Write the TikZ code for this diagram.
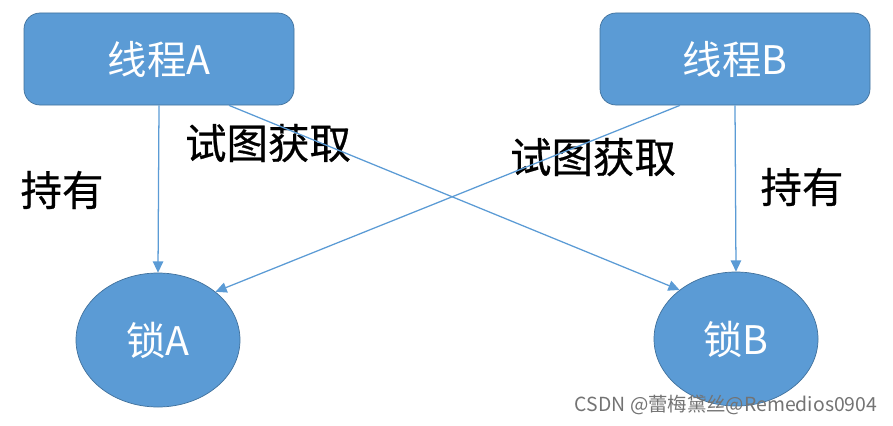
\documentclass[tikz,border=0pt]{standalone}
\usepackage{fontspec}
\usepackage{tikz}
\usetikzlibrary{arrows.meta, shapes.geometric}
\newfontfamily\cjk{Noto Sans CJK SC}
\newfontfamily\cjkheavy[FakeBold=0.6]{Noto Sans CJK SC}
\definecolor{lockblue}{HTML}{5B9BD5}
\definecolor{edgeblue}{HTML}{41719C}

\begin{document}
\begin{tikzpicture}[
    thread/.style={draw=edgeblue, line width=0.5pt, fill=lockblue, rounded corners=0.4cm,
                   minimum width=6.75cm, minimum height=2.3cm, text=white,
                   font=\cjk\fontsize{28}{30}\selectfont},
    lock/.style={ellipse, draw=edgeblue, line width=0.5pt, fill=lockblue,
                 minimum width=4.1cm, minimum height=3.35cm, text=white,
                 font=\cjk\fontsize{28}{30}\selectfont},
    label/.style={font=\cjkheavy\fontsize{29.5}{32}\selectfont, text=black},
    arrow/.style={-{Triangle[length=2.8mm, width=2.6mm]}, line width=0.9pt, lockblue}
]
\useasboundingbox (0,0) rectangle (22.325,-10.625);

\node[thread] (tA) at (3.975,-1.475) {线程A};
\node[thread] (tB) at (18.375,-1.475) {线程B};
\node[lock] (lA) at (3.95,-8.5) {锁A};
\node[lock] (lB) at (18.4,-8.475) {锁B};

\node[label] (holdA) at (1.55,-4.75) {持有};
\node[label] (tryA) at (6.7,-3.575) {试图获取};
\node[label] (tryB) at (14.825,-3.925) {试图获取};
\node[label] (holdB) at (20.05,-4.675) {持有};

\draw[arrow] (tA.south) -- (lA.north);
\draw[arrow] (tB.south) -- (lB.north);
\draw[arrow] ([xshift=1.75cm]tA.south) -- (lB.139);
\draw[arrow] ([xshift=-1.375cm]tB.south) -- (lA.40);

\node[font=\cjk\fontsize{13.8}{15}\selectfont, text=black!55] (mark) at (18.15,-10.125) {CSDN @蕾梅黛丝@Remedios0904};
\end{tikzpicture}
\end{document}
